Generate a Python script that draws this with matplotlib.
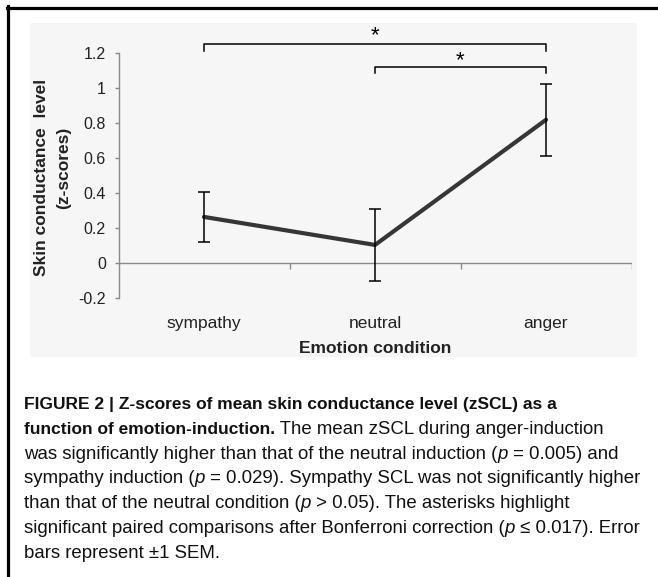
import matplotlib
matplotlib.use('Agg')
import matplotlib.pyplot as plt
from matplotlib import font_manager
from matplotlib.patches import Rectangle
from matplotlib.lines import Line2D

# ── Data ─────────────────────────────────────────────────────────────────────
conditions = ['sympathy', 'neutral', 'anger']
zscl_mean  = [0.265, 0.105, 0.82]
zscl_sem   = [0.142, 0.205, 0.205]
yticks     = [-0.2, 0, 0.2, 0.4, 0.6, 0.8, 1, 1.2]
ytick_lbls = ['-0.2', '0', '0.2', '0.4', '0.6', '0.8', '1', '1.2']
# significance brackets: (from, to, bracket height, star height)
brackets   = [(0, 2, 1.253, 1.30), (1, 2, 1.123, 1.155)]

W, H = 658, 577
installed = {f.name for f in font_manager.fontManager.ttflist}
FONT = 'Liberation Sans' if 'Liberation Sans' in installed else 'DejaVu Sans'
plt.rcParams['font.family'] = [FONT, 'DejaVu Sans']
CAP_BOLD, CAP_REG = 12.5, 13.4

AXC = '#8a8a8a'
TXT = '#222222'

fig = plt.figure(figsize=(W / 100, H / 100), dpi=100)
fig.patch.set_facecolor('white')

# light panel behind the chart + page frame (top and left rules)
fig.patches.append(Rectangle((30 / W, 1 - 357 / H), 607 / W, 334 / H,
                             transform=fig.transFigure, facecolor='#f6f6f6',
                             edgecolor='none', zorder=-5))
fig.lines.append(Line2D([7 / W, 1], [1 - 7.5 / H, 1 - 7.5 / H], transform=fig.transFigure,
                        color='black', lw=2.3, zorder=-4))
fig.lines.append(Line2D([7.5 / W, 7.5 / W], [0, 1 - 6 / H], transform=fig.transFigure,
                        color='black', lw=2.3, zorder=-4))

# ── Chart ────────────────────────────────────────────────────────────────────
ax = fig.add_axes([118.5 / W, 1 - 298.3 / H, 513 / W, 245 / H])
ax.set_facecolor('none')
x = list(range(len(conditions)))

ax.plot(x, zscl_mean, color='#363636', lw=3.0, solid_capstyle='round', zorder=3)
ax.errorbar(x, zscl_mean, yerr=zscl_sem, fmt='none', ecolor='black',
            elinewidth=1.1, capsize=4, capthick=1.1, zorder=4)

ax.set_xlim(-0.5, 2.5)
ax.set_ylim(-0.2, 1.2)
for s in ['top', 'right', 'bottom']:
    ax.spines[s].set_visible(False)
ax.spines['left'].set_color(AXC)
ax.spines['left'].set_linewidth(1.0)

# category axis sits at y = 0 with ticks between the categories
ax.axhline(0, color=AXC, lw=1.0, zorder=1)
ax.vlines([0.5, 1.5, 2.5], -0.03, 0, color=AXC, lw=1.0, zorder=1)

ax.set_yticks(yticks)
ax.set_yticklabels(ytick_lbls)
ax.tick_params(axis='y', length=3, width=1.0, color=AXC, pad=6,
               labelsize=11.5, labelcolor=TXT)
ax.set_xticks(x)
ax.set_xticklabels(conditions)
ax.tick_params(axis='x', length=0, pad=13, labelsize=12.5, labelcolor=TXT)
ax.set_xlabel('Emotion condition', fontsize=12.5, fontweight='bold', color=TXT, labelpad=7)

for a, b, h, hs in brackets:
    ax.plot([a, a, b, b], [h - 0.038, h, h, h - 0.038], color='black', lw=1.1,
            clip_on=False)
    ax.text((a + b) / 2, hs, '*', ha='center', va='center', fontsize=16,
            color='black', clip_on=False)

fig.text(42 / W, 1 - 177 / H, 'Skin conductance  level', rotation=90,
         ha='center', va='center', fontsize=12.5, fontweight='bold', color=TXT)
fig.text(64 / W, 1 - 168 / H, '(z-scores)', rotation=90,
         ha='center', va='center', fontsize=12.5, fontweight='bold', color=TXT)

# ── Caption ──────────────────────────────────────────────────────────────────
B, N, I = ('bold', 'normal'), ('normal', 'normal'), ('normal', 'italic')
caption = [
    [('FIGURE 2 | Z-scores of mean skin conductance level (zSCL) as a', B)],
    [('function of emotion-induction.', B), (' The mean zSCL during anger-induction', N)],
    [('was significantly higher than that of the neutral induction (', N), ('p', I),
     (' = 0.005) and', N)],
    [('sympathy induction (', N), ('p', I),
     (' = 0.029). Sympathy SCL was not significantly higher', N)],
    [('than that of the neutral condition (', N), ('p', I),
     (' > 0.05). The asterisks highlight', N)],
    [('significant paired comparisons after Bonferroni correction (', N), ('p', I),
     (' \u2264 0.017). Error', N)],
    [('bars represent \u00b11 SEM.', N)],
]

renderer = fig.canvas.get_renderer()
base0, step = 409, 24.8
for i, runs in enumerate(caption):
    xpx = 24
    ypx = base0 + i * step
    for s, (wt, st) in runs:
        size = CAP_BOLD if wt == 'bold' else CAP_REG
        t = fig.text(xpx / W, 1 - ypx / H, s, ha='left', va='baseline',
                     fontsize=size, fontweight=wt, fontstyle=st, color='#111111')
        xpx = t.get_window_extent(renderer).x1

fig.savefig('out.png', dpi=100, facecolor=fig.get_facecolor())
